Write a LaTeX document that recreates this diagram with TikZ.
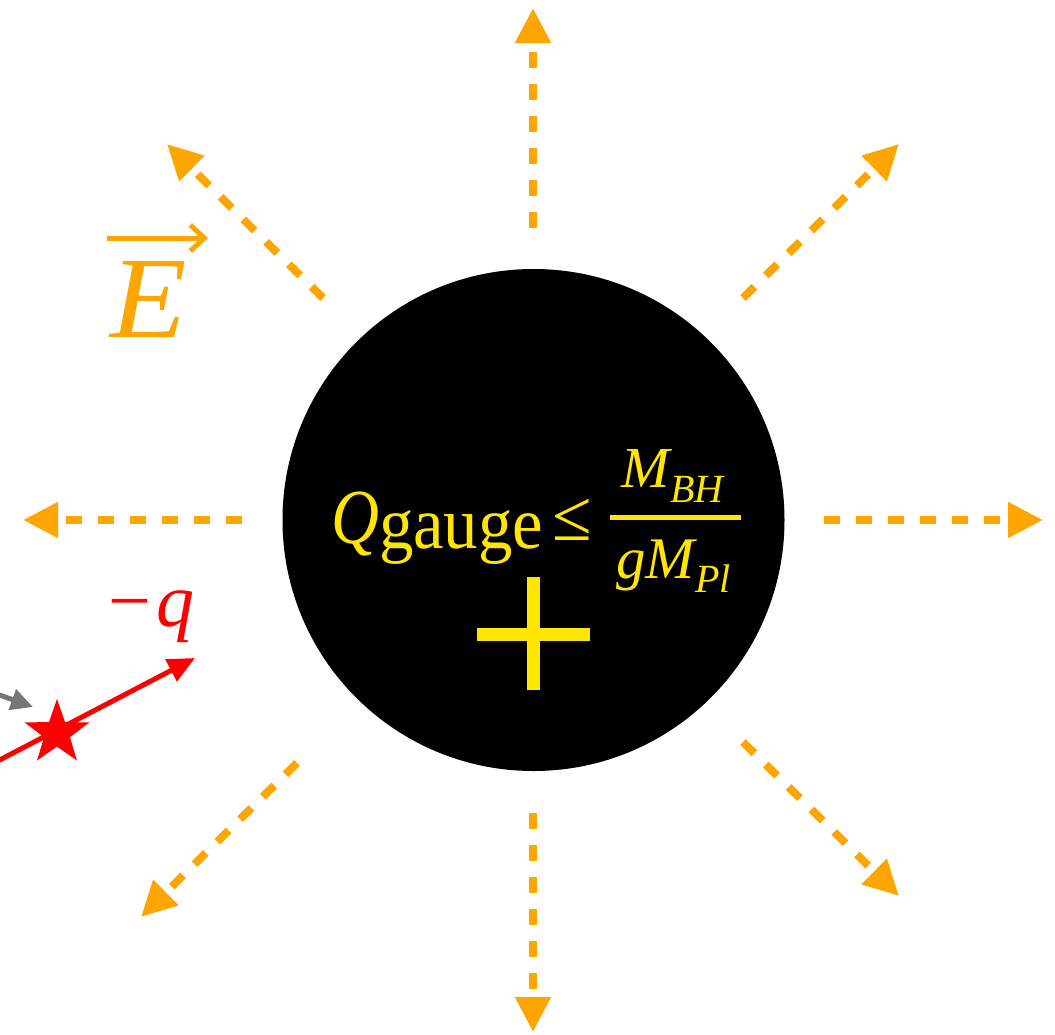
\documentclass[tikz,border=0pt]{standalone}
\usepackage{fontspec}
\usepackage{graphicx}
\setmainfont{Liberation Serif}
\usetikzlibrary{arrows.meta,shapes.geometric}
\definecolor{fieldorange}{HTML}{FFA500}
\definecolor{bhyellow}{HTML}{FFE600}
\definecolor{chargered}{HTML}{FF0000}
\definecolor{pathgray}{HTML}{777777}
\tikzset{
  fieldline/.style={draw=fieldorange, line width=8pt, dash pattern=on 16pt off 16pt,
    -{Triangle[length=35pt,width=34pt]}},
  txt/.style={inner sep=0pt, outer sep=0pt, anchor=base west},
  yel/.style={txt, text=bhyellow},
}
\newcommand{\fsz}[1]{\fontsize{#1}{#1}\selectfont}
\begin{document}
\begin{tikzpicture}[x=1pt,y=-1pt]
\useasboundingbox (0,0) rectangle (1055,1034);
\clip (0,0) rectangle (1055,1034);
% black hole
\fill[black] (533.5,520) circle (251);
\node[circle, minimum size=502pt, inner sep=0pt] (bh) at (533.5,520) {};
% field lines
\coordinate (s1) at (533,228); \coordinate (t1) at (533,8);
\coordinate (s2) at (533,813); \coordinate (t2) at (533,1032);
\coordinate (s3) at (242,520); \coordinate (t3) at (23,520);
\coordinate (s4) at (824,520); \coordinate (t4) at (1043,520);
\coordinate (s5) at (323,298); \coordinate (t5) at (167,144);
\coordinate (s6) at (743,298); \coordinate (t6) at (899,144);
\coordinate (s7) at (743,742); \coordinate (t7) at (899,896);
\coordinate (s8) at (297,763); \coordinate (t8) at (141,917);
\foreach \i in {1,...,8} {\draw[fieldline] (s\i) -- (t\i);}
% E label
\node[txt, text=fieldorange] (elabel) at (110,337) {\fsz{116}\itshape\scalebox{1.08}[1]{E}};
\coordinate (ea) at (107,238); \coordinate (eb) at (208,238);
\draw[fieldorange, line width=5pt, -{Straight Barb[length=14pt,width=26pt,line width=5pt]}] (ea) -- (eb);
% formula
\node[yel] (Q) at (331,543) {\fsz{78}\itshape\scalebox{0.85}[1]{Q}};
\node[yel] (gauge) at (379,548) {\fsz{74}\scalebox{0.93}[1]{gauge}};
\node[yel] (le) at (552,540) {\fsz{72}≤};
\node[yel] (num) at (621,487) {\fsz{58}\itshape M};
\node[yel] (numsub) at (670,502) {\fsz{40}\itshape BH};
\coordinate (bara) at (610,517); \coordinate (barb) at (741,517);
\draw[bhyellow, line width=5pt] (bara) -- (barb);
\node[yel] (den) at (616,578) {\fsz{59}\itshape gM};
\node[yel] (densub) at (695,592) {\fsz{40}\itshape Pl};
% plus
\coordinate (ph1) at (477,634); \coordinate (ph2) at (590,634);
\coordinate (pv1) at (533.5,577); \coordinate (pv2) at (533.5,690);
\draw[bhyellow, line width=13pt] (ph1) -- (ph2) (pv1) -- (pv2);
% test charge
\coordinate (g1) at (-20,688); \coordinate (g2) at (33,707);
\draw[pathgray, line width=5pt, -{Triangle[length=22pt,width=21pt]}] (g1) -- (g2);
\coordinate (r1) at (-10,765); \coordinate (r2) at (195,658);
\draw[chargered, line width=5pt, -{Triangle[length=27pt,width=24pt]}] (r1) -- (r2);
\node[star, star points=5, star point ratio=2.5, fill=chargered, minimum size=68pt, inner sep=0pt] (charge) at (57,733) {};
\node[txt, text=chargered] (qlabel) at (108,626) {\fsz{76}−\kern6pt\textit{q}};
\end{tikzpicture}
\end{document}
